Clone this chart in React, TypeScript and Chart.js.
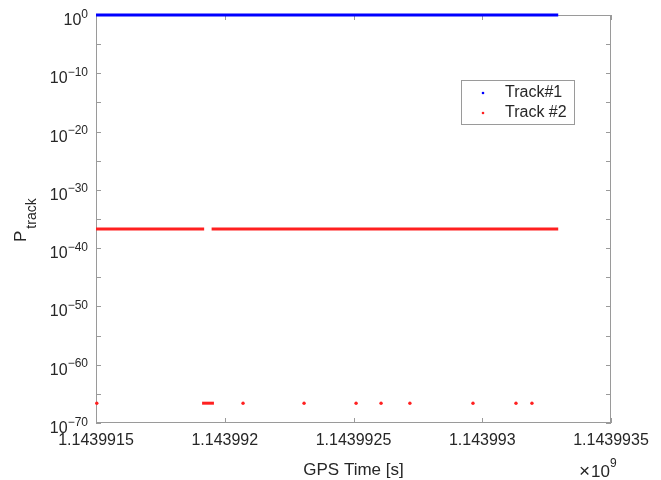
import React, { useEffect, useRef } from "react";
import { Chart, registerables } from "chart.js";

Chart.register(...registerables);

// ---- data ----
const xMin = 1143991500;
const xMax = 1143993500;
const xTickValues = [1143991500, 1143992000, 1143992500, 1143993000, 1143993500];
const xTickLabels = ["1.1439915", "1.143992", "1.1439925", "1.143993", "1.1439935"];
const yTickExponents = [0, -10, -20, -30, -40, -50, -60, -70];
const yMinorExponents = [-5, -15, -25, -35, -45, -55, -65];

// Track #1: constant at 10^0
const track1Times = [1143991500, 1143993295];
const track1Values = [1, 1];

// Track #2: high level run (null = gap)
const track2HighTimes = [1143991500, 1143991920, 1143991935, 1143991949, 1143993295];
const track2HighValues = [1.95e-37, 1.95e-37, null, 1.95e-37, 1.95e-37];

// Track #2: low level run and isolated low points
const track2LowRunTimes = [1143991912, 1143991958];
const track2LowRunValues = [2.5e-67, 2.5e-67];
const track2LowDotTimes = [1143991503, 1143992071, 1143992308, 1143992510, 1143992607, 1143992719, 1143992964, 1143993131, 1143993193];
const track2LowDotValues = [2.5e-67, 2.5e-67, 2.5e-67, 2.5e-67, 2.5e-67, 2.5e-67, 2.5e-67, 2.5e-67, 2.5e-67];

const seriesNames = ["Track#1", "Track #2"];
const BLUE = "#0000ff";
const RED = "#ff2020";
const AXIS = "#9a9a9a";
const TEXT = "#262626";
const FONT = '"Liberation Sans", Arial, Helvetica, sans-serif';

const pts = (xs: number[], ys: (number | null)[]) => xs.map((x, i) => ({ x, y: ys[i] }));

const decor = {
  id: "decor",
  beforeDatasetsDraw(chart: any) {
    const { ctx, chartArea: a, scales } = chart;
    ctx.save();
    ctx.strokeStyle = AXIS;
    ctx.lineWidth = 1;
    ctx.strokeRect(a.left + 0.5, a.top + 0.5, a.right - a.left - 1, a.bottom - a.top - 1);
    ctx.beginPath();
    const tl = 5;
    for (const v of xTickValues) {
      const px = Math.round(scales.x.getPixelForValue(v)) + 0.5;
      ctx.moveTo(px, a.bottom);
      ctx.lineTo(px, a.bottom - tl);
      ctx.moveTo(px, a.top);
      ctx.lineTo(px, a.top + tl);
    }
    for (const e of [...yTickExponents, ...yMinorExponents]) {
      const py = Math.round(scales.y.getPixelForValue(Math.pow(10, e))) + 0.5;
      ctx.moveTo(a.left, py);
      ctx.lineTo(a.left + tl, py);
      ctx.moveTo(a.right, py);
      ctx.lineTo(a.right - tl, py);
    }
    ctx.stroke();
    ctx.restore();
  },
  afterDraw(chart: any) {
    const { ctx, chartArea: a, scales } = chart;
    ctx.save();
    ctx.fillStyle = TEXT;
    // y tick labels 10^e
    for (const e of yTickExponents) {
      const py = scales.y.getPixelForValue(Math.pow(10, e));
      const expStr = e === 0 ? "0" : "\u2212" + Math.abs(e);
      ctx.font = "12px " + FONT;
      ctx.textBaseline = "alphabetic";
      ctx.textAlign = "right";
      const right = a.left - 8;
      const ew = ctx.measureText(expStr).width;
      ctx.fillText(expStr, right, py + 2.5);
      ctx.font = "16px " + FONT;
      ctx.fillText("10", right - ew, py + 10);
    }
    // y title P_track
    ctx.save();
    ctx.translate(25.5, 242);
    ctx.rotate(-Math.PI / 2);
    ctx.textAlign = "left";
    ctx.textBaseline = "alphabetic";
    ctx.font = "17px " + FONT;
    ctx.fillText("P", 0, 0);
    const pw = ctx.measureText("P").width;
    ctx.font = "14px " + FONT;
    ctx.fillText("track", pw + 2, 10.5);
    ctx.restore();
    // x title
    ctx.font = "17px " + FONT;
    ctx.textAlign = "center";
    ctx.textBaseline = "alphabetic";
    ctx.fillText("GPS Time [s]", (a.left + a.right) / 2, 475);
    // x10^9
    ctx.textAlign = "left";
    ctx.font = "17px " + FONT;
    const tw = ctx.measureText("10").width;
    ctx.fillText("10", 610 - tw, 477);
    ctx.textAlign = "right";
    ctx.font = "19px " + FONT;
    ctx.fillText("\u00d7", 610 - tw - 1, 477);
    ctx.textAlign = "left";
    ctx.font = "12px " + FONT;
    ctx.fillText("9", 610, 467);
    // legend
    const lx = 461, ly = 80, lw = 113, lh = 44;
    ctx.fillStyle = "#ffffff";
    ctx.fillRect(lx, ly, lw, lh);
    ctx.strokeStyle = AXIS;
    ctx.lineWidth = 1;
    ctx.strokeRect(lx + 0.5, ly + 0.5, lw, lh);
    const colors = [BLUE, RED];
    seriesNames.forEach((name, i) => {
      const cy = ly + 13 + i * 20;
      ctx.fillStyle = colors[i];
      ctx.beginPath();
      ctx.arc(lx + 22, cy, 1.3, 0, Math.PI * 2);
      ctx.fill();
      ctx.fillStyle = TEXT;
      ctx.font = "16px " + FONT;
      ctx.textAlign = "left";
      ctx.textBaseline = "middle";
      ctx.fillText(name, lx + 44, cy);
    });
    ctx.restore();
  },
};

export default function App() {
  const ref = useRef<HTMLCanvasElement | null>(null);
  useEffect(() => {
    if (!ref.current) return;
    const chart = new Chart(ref.current, {
      type: "scatter",
      data: {
        datasets: [
          {
            label: seriesNames[0],
            data: pts(track1Times, track1Values),
            showLine: true,
            borderColor: BLUE,
            backgroundColor: BLUE,
            borderWidth: 3,
            pointRadius: 0,
            clip: false as any,
          },
          {
            label: seriesNames[1],
            data: pts(track2HighTimes, track2HighValues),
            showLine: true,
            spanGaps: false,
            borderColor: RED,
            backgroundColor: RED,
            borderWidth: 3,
            pointRadius: 0,
            clip: false as any,
          },
          {
            label: seriesNames[1] + " low run",
            data: pts(track2LowRunTimes, track2LowRunValues),
            showLine: true,
            borderColor: RED,
            backgroundColor: RED,
            borderWidth: 3,
            pointRadius: 0,
            clip: false as any,
          },
          {
            label: seriesNames[1] + " low points",
            data: pts(track2LowDotTimes, track2LowDotValues),
            showLine: false,
            borderWidth: 0,
            backgroundColor: RED,
            pointRadius: 1.7,
            clip: false as any,
          },
        ],
      },
      options: {
        responsive: false,
        animation: false,
        layout: { padding: { left: 0, right: 50, top: 15, bottom: 0 } },
        plugins: { legend: { display: false }, tooltip: { enabled: false } },
        scales: {
          x: {
            type: "linear",
            min: xMin,
            max: xMax,
            afterFit: (s: any) => {
              s.height = 57;
            },
            afterBuildTicks: (s: any) => {
              s.ticks = xTickValues.map((v) => ({ value: v }));
            },
            grid: { display: false, drawTicks: false },
            border: { display: false },
            ticks: {
              autoSkip: false,
              maxRotation: 0,
              padding: 8,
              color: TEXT,
              font: { family: FONT, size: 16 },
              callback: (v: any) => xTickLabels[xTickValues.indexOf(Number(v))],
            },
          },
          y: {
            type: "logarithmic",
            min: 1e-70,
            max: 1,
            afterFit: (s: any) => {
              s.width = 96;
            },
            afterBuildTicks: (s: any) => {
              s.ticks = yTickExponents.map((e) => ({ value: Math.pow(10, e) }));
            },
            grid: { display: false, drawTicks: false },
            border: { display: false },
            ticks: { display: false },
          },
        },
      },
      plugins: [decor],
    });
    return () => chart.destroy();
  }, []);
  return (
    <div style={{ position: "absolute", left: 0, top: 0, width: 661, height: 480, background: "#fff" }}>
      <canvas ref={ref} width={661} height={480} style={{ display: "block" }} />
    </div>
  );
}
